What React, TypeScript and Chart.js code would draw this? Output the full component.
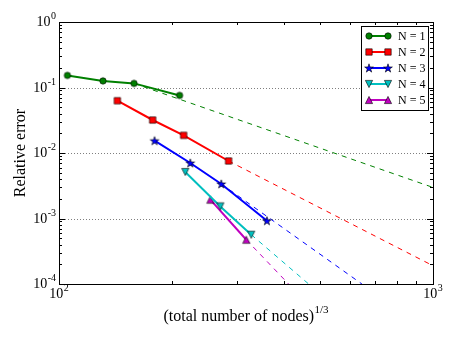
import { useEffect, useRef } from 'react';
import { Chart, registerables } from 'chart.js';
Chart.register(...registerables);

const seriesNames = ['N = 1', 'N = 2', 'N = 3', 'N = 4', 'N = 5'];
const seriesColors = ['#008000', '#ff0000', '#0000ff', '#00bfbf', '#bf00bf'];
const markerKinds = ['circle', 'square', 'star', 'triDown', 'triUp'];

const n1X = [105.3, 131.1, 158.7, 210.1];
const n1Y = [0.153, 0.126, 0.1155, 0.0757];
const n2X = [143.2, 178.0, 215.4, 284.1];
const n2Y = [0.0629, 0.0319, 0.0186, 0.00755];
const n3X = [180.1, 224.4, 271.6, 359.7];
const n3Y = [0.0154, 0.00703, 0.00337, 0.000925];
const n4X = [217.6, 270.0, 326.6];
const n4Y = [0.00513, 0.00153, 0.000566];
const n5X = [253.9, 316.8];
const n5Y = [0.00194, 0.000474];

// dashed extrapolation lines (start, end)
const t1X = [158.7, 1000];
const t1Y = [0.1155, 0.00298];
const t2X = [284.1, 1000];
const t2Y = [0.00755, 0.00019];
const t3X = [271.6, 645.6];
const t3Y = [0.00337, 0.0001];
const t4X = [326.6, 465];
const t4Y = [0.000566, 0.0001];
const t5X = [316.8, 411];
const t5Y = [0.000474, 0.0001];

const xTickValues = [100, 1000];
const xTickExps = ['2', '3'];
const yTickValues = [1, 0.1, 0.01, 0.001, 0.0001];
const yTickExps = ['0', '-1', '-2', '-3', '-4'];
const yTitle = 'Relative error';
const xTitle = '(total number of nodes)';
const xTitleSup = '1/3';

const solidX = [n1X, n2X, n3X, n4X, n5X];
const solidY = [n1Y, n2Y, n3Y, n4Y, n5Y];
const trendX = [t1X, t2X, t3X, t4X, t5X];
const trendY = [t1Y, t2Y, t3Y, t4Y, t5Y];

const FONT = '"Liberation Serif", "Times New Roman", serif';

function makeMarker(kind: string, color: string): HTMLCanvasElement {
  const c = document.createElement('canvas');
  const size = kind === 'star' ? 12 : 10;
  c.width = size;
  c.height = size;
  const ctx = c.getContext('2d')!;
  const cx = size / 2;
  const cy = size / 2;
  ctx.fillStyle = color;
  ctx.strokeStyle = '#000';
  ctx.lineWidth = 0.6;
  ctx.beginPath();
  if (kind === 'circle') {
    ctx.arc(cx, cy, 3.2, 0, Math.PI * 2);
  } else if (kind === 'square') {
    ctx.rect(cx - 3.2, cy - 3.2, 6.4, 6.4);
  } else if (kind === 'star') {
    const R = 4.6, r = R * 0.382;
    for (let i = 0; i < 10; i++) {
      const rad = i % 2 === 0 ? R : r;
      const a = -Math.PI / 2 + (i * Math.PI) / 5;
      const px = cx + rad * Math.cos(a);
      const py = cy + 0.4 + rad * Math.sin(a);
      if (i === 0) ctx.moveTo(px, py);
      else ctx.lineTo(px, py);
    }
    ctx.closePath();
  } else if (kind === 'triUp') {
    ctx.moveTo(cx, cy - 3.6);
    ctx.lineTo(cx + 3.6, cy + 3.6);
    ctx.lineTo(cx - 3.6, cy + 3.6);
    ctx.closePath();
  } else {
    ctx.moveTo(cx, cy + 3.6);
    ctx.lineTo(cx + 3.6, cy - 3.6);
    ctx.lineTo(cx - 3.6, cy - 3.6);
    ctx.closePath();
  }
  ctx.fill();
  ctx.stroke();
  return c;
}

function drawPow(ctx: CanvasRenderingContext2D, base: string, exp: string, x: number, y: number, supY: number, align: 'center' | 'right', baseSize: number, supSize: number) {
  ctx.font = `${baseSize}px ${FONT}`;
  const wb = ctx.measureText(base).width;
  ctx.font = `${supSize}px ${FONT}`;
  const we = ctx.measureText(exp).width;
  const total = wb + we + 0.5;
  const start = align === 'center' ? x - total / 2 : x - total;
  ctx.textAlign = 'left';
  ctx.textBaseline = 'alphabetic';
  ctx.font = `${baseSize}px ${FONT}`;
  ctx.fillText(base, start, y);
  ctx.font = `${supSize}px ${FONT}`;
  ctx.fillText(exp, start + wb + 0.5, supY);
}

export default function App() {
  const ref = useRef<HTMLCanvasElement>(null);
  useEffect(() => {
    if (!ref.current) return;
    const markers = markerKinds.map((k, i) => makeMarker(k, seriesColors[i]));

    const solidSets = solidX.map((xs, i) => ({
      label: seriesNames[i],
      data: xs.map((x, j) => ({ x, y: solidY[i][j] })),
      borderColor: seriesColors[i],
      backgroundColor: seriesColors[i],
      borderWidth: 2,
      pointStyle: markers[i] as any,
      pointRadius: 4,
      pointHoverRadius: 4,
      tension: 0,
      fill: false,
    }));
    const trendSets = trendX.map((xs, i) => ({
      label: seriesNames[i] + ' trend',
      data: xs.map((x, j) => ({ x, y: trendY[i][j] })),
      borderColor: seriesColors[i],
      borderWidth: 1,
      borderDash: [5, 5],
      pointRadius: 0,
      tension: 0,
      fill: false,
    }));

    const axesPlugin = {
      id: 'mplAxes',
      beforeDatasetsDraw(chart: any) {
        const ctx = chart.ctx as CanvasRenderingContext2D;
        const { left, right } = chart.chartArea;
        const ys = chart.scales.y;
        ctx.save();
        ctx.strokeStyle = '#7f7f7f';
        ctx.lineWidth = 1;
        ctx.setLineDash([1, 2]);
        yTickValues.forEach((v) => {
          if (v === 1 || v === 0.0001) return;
          const py = Math.round(ys.getPixelForValue(v)) + 0.5;
          ctx.beginPath();
          ctx.moveTo(left, py);
          ctx.lineTo(right, py);
          ctx.stroke();
        });
        ctx.restore();
      },
      afterDraw(chart: any) {
        const ctx = chart.ctx as CanvasRenderingContext2D;
        const { left, right, top, bottom } = chart.chartArea;
        const xs = chart.scales.x;
        const ys = chart.scales.y;
        ctx.save();
        ctx.strokeStyle = '#000';
        ctx.lineWidth = 1;
        ctx.setLineDash([]);
        ctx.strokeRect(Math.round(left) + 0.5, Math.round(top) + 0.5, Math.round(right - left), Math.round(bottom - top));
        // x ticks
        for (let d = 100; d < 1000; d += 100) {
          const px = Math.round(xs.getPixelForValue(d)) + 0.5;
          const len = d === 100 ? 6 : 3;
          ctx.beginPath();
          ctx.moveTo(px, bottom);
          ctx.lineTo(px, bottom - len);
          ctx.moveTo(px, top);
          ctx.lineTo(px, top + len);
          ctx.stroke();
        }
        // y ticks
        for (let e = -4; e < 0; e++) {
          for (let m = 1; m < 10; m++) {
            const v = m * Math.pow(10, e);
            const py = Math.round(ys.getPixelForValue(v)) + 0.5;
            const len = m === 1 ? 6 : 3;
            ctx.beginPath();
            ctx.moveTo(left, py);
            ctx.lineTo(left + len, py);
            ctx.moveTo(right, py);
            ctx.lineTo(right - len, py);
            ctx.stroke();
          }
        }
        ctx.fillStyle = '#000';
        // y labels
        yTickValues.forEach((v, i) => {
          const py = ys.getPixelForValue(v);
          drawPow(ctx, '10', yTickExps[i], left - 3, py + 4, py - 3, 'right', 14, 10);
        });
        // x labels
        xTickValues.forEach((v, i) => {
          const px = xs.getPixelForValue(v);
          drawPow(ctx, '10', xTickExps[i], px, bottom + 14, bottom + 7, 'center', 14, 10);
        });
        // y title
        ctx.save();
        ctx.translate(21, (top + bottom) / 2);
        ctx.rotate(-Math.PI / 2);
        ctx.font = `16px ${FONT}`;
        ctx.textAlign = 'center';
        ctx.textBaseline = 'middle';
        ctx.fillText(yTitle, 0, 0);
        ctx.restore();
        // x title
        drawPow(ctx, xTitle, xTitleSup, (left + right) / 2, bottom + 37, bottom + 29, 'center', 16, 11);
        // legend
        const lx0 = 361, ly0 = 26, lw = 67, lh = 84;
        ctx.fillStyle = '#fff';
        ctx.fillRect(lx0, ly0, lw, lh);
        ctx.strokeStyle = '#000';
        ctx.lineWidth = 1;
        ctx.strokeRect(lx0 + 0.5, ly0 + 0.5, lw, lh);
        seriesNames.forEach((name, i) => {
          const y = ly0 + 10 + 16 * i;
          ctx.strokeStyle = seriesColors[i];
          ctx.lineWidth = 2;
          ctx.beginPath();
          ctx.moveTo(369, y);
          ctx.lineTo(388, y);
          ctx.stroke();
          const mk = markers[i];
          ctx.drawImage(mk, 369 - mk.width / 2, y - mk.height / 2);
          ctx.drawImage(mk, 388 - mk.width / 2, y - mk.height / 2);
          ctx.fillStyle = '#000';
          ctx.font = `12px ${FONT}`;
          ctx.textAlign = 'left';
          ctx.textBaseline = 'middle';
          ctx.fillText(name, 398, y + 1);
        });
        ctx.restore();
      },
    };

    const chart = new Chart(ref.current, {
      type: 'line',
      data: { datasets: [...solidSets, ...trendSets] as any },
      options: {
        animation: false,
        responsive: true,
        maintainAspectRatio: false,
        layout: { padding: { left: 59, right: 24, top: 22, bottom: 59 } },
        plugins: { legend: { display: false }, tooltip: { enabled: false } },
        scales: {
          x: { type: 'logarithmic', min: 100, max: 1000, display: false },
          y: { type: 'logarithmic', min: 0.0001, max: 1, display: false },
        },
      },
      plugins: [axesPlugin],
    });
    return () => chart.destroy();
  }, []);

  return (
    <div style={{ position: 'fixed', left: 0, top: 0, width: 457, height: 343, background: '#fff' }}>
      <canvas ref={ref} />
    </div>
  );
}
